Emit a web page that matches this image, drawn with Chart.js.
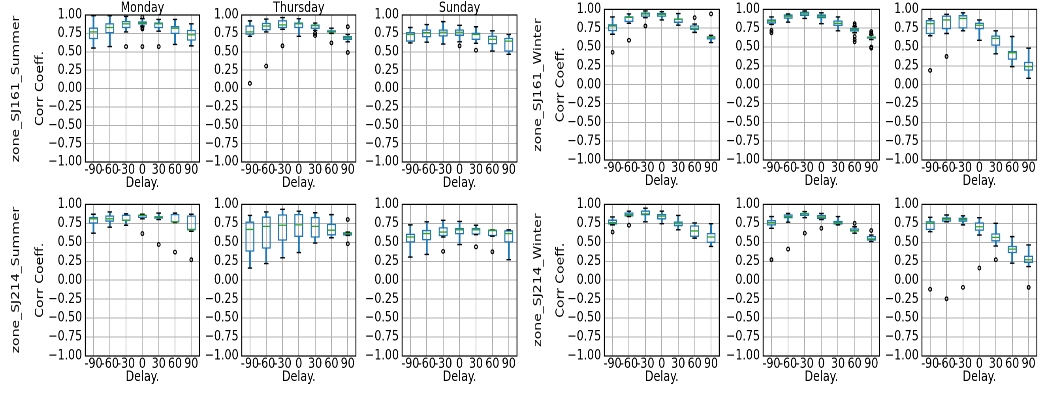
<!DOCTYPE html>
<html>
<head>
<meta charset="utf-8">
<script src="https://cdn.jsdelivr.net/npm/chart.js"></script>
<style>
  html, body { margin: 0; padding: 0; background: #fff; overflow: hidden; width: 1040px; height: 393px; }
  #fig { position: absolute; left: 0; top: 0; height: 393px; transform-origin: 0 0; }
  #fig canvas { position: absolute; }
  .rowlab { position: absolute; font: 14px "DejaVu Sans"; color: #000; white-space: nowrap;
            transform: translate(-50%, -50%) rotate(-90deg); }
</style>
</head>
<body>
<div id="fig"></div>
<script>
const delays = ['-90', '-60', '-30', '0', '30', '60', '90'];
const days = ['Monday', 'Thursday', 'Sunday'];

// per delay: whisker low, Q1, median, Q3, whisker high
const sj161SumMon = [[.55,.67,.77,.83,.99],[.57,.75,.83,.89,.99],[.77,.82,.88,.92,.98],[.85,.87,.89,.915,.95],[.78,.82,.88,.90,.94],[.60,.74,.82,.85,.94],[.58,.65,.73,.80,.88]];
const sj161SumMonOut = [[],[],[.57],[.975,.83,.81,.57],[.57],[],[]];
const sj161SumThu = [[.71,.73,.77,.86,.92],[.77,.79,.85,.895,.945],[.805,.82,.865,.93,.965],[.71,.82,.88,.90,.95],[.79,.81,.855,.87,.89],[.75,.76,.77,.795,.82],[.635,.66,.69,.715,.735]];
const sj161SumThuOut = [[.07],[.305],[.58],[],[.75,.72],[.62],[.84,.49]];
const sj161SumSun = [[.62,.635,.735,.77,.83],[.63,.695,.76,.805,.87],[.605,.705,.765,.805,.91],[.635,.715,.765,.805,.86],[.615,.66,.735,.76,.84],[.51,.60,.67,.72,.785],[.465,.50,.645,.69,.735]];
const sj161SumSunOut = [[],[],[],[.58],[.52],[],[]];

const sj161WinMon = [[.67,.71,.78,.805,.90],[.815,.83,.895,.91,.94],[.89,.90,.94,.96,.98],[.86,.90,.935,.955,.97],[.79,.82,.87,.88,.945],[.695,.725,.75,.79,.805],[.56,.60,.63,.645,.655]];
const sj161WinMonOut = [[.43],[.59],[.78],[],[],[.89],[.94]];
const sj161WinThu = [[.80,.81,.845,.87,.90],[.83,.875,.91,.935,.94],[.88,.91,.94,.97,.98],[.81,.88,.91,.935,.955],[.715,.78,.815,.855,.90],[.69,.705,.73,.755,.77],[.60,.61,.625,.64,.66]];
const sj161WinThuOut = [[.72,.69],[],[],[],[],[.81,.79,.64,.60,.57],[.705,.68,.50,.485]];
const sj161WinSun = [[.65,.67,.81,.86,.875],[.68,.735,.86,.92,.935],[.715,.745,.88,.925,.955],[.59,.735,.79,.825,.86],[.41,.515,.615,.655,.715],[.24,.33,.425,.45,.64],[.085,.185,.24,.305,.485]];
const sj161WinSunOut = [[.19],[.375],[],[],[],[],[]];

const sj214SumMon = [[.62,.745,.81,.835,.87],[.70,.77,.81,.855,.90],[.725,.78,.79,.865,.875],[.81,.82,.855,.865,.87],[.80,.81,.835,.845,.885],[.76,.76,.77,.875,.885],[.645,.66,.665,.855,.87]];
const sj214SumMonOut = [[],[],[],[.615],[.47],[.37],[.27]];
const sj214SumThu = [[.16,.375,.67,.775,.855],[.22,.415,.71,.84,.90],[.295,.52,.725,.87,.935],[.365,.57,.73,.875,.91],[.49,.56,.71,.835,.89],[.56,.59,.66,.745,.865],[.59,.59,.615,.635,.635]];
const sj214SumThuOut = [[],[],[],[],[],[],[.80,.48]];
const sj214SumSun = [[.305,.495,.57,.615,.73],[.34,.525,.615,.665,.77],[.57,.58,.635,.70,.79],[.47,.605,.665,.69,.775],[.60,.60,.665,.69,.725],[.58,.58,.66,.665,.665],[.27,.495,.615,.66,.665]];
const sj214SumSunOut = [[],[],[.38],[],[.44],[.375],[]];

const sj214WinMon = [[.73,.735,.76,.80,.835],[.84,.84,.865,.895,.91],[.77,.855,.875,.92,.95],[.745,.80,.845,.875,.91],[.665,.71,.745,.775,.855],[.555,.57,.65,.725,.755],[.445,.49,.57,.625,.745]];
const sj214WinMonOut = [[.635],[.725],[],[],[],[],[]];
const sj214WinThu = [[.685,.72,.76,.795,.84],[.765,.815,.84,.87,.88],[.825,.845,.875,.89,.905],[.80,.805,.83,.86,.88],[.73,.735,.76,.785,.84],[.62,.64,.655,.685,.705],[.51,.52,.545,.585,.595]];
const sj214WinThuOut = [[.27],[.41],[.62],[.685],[],[.75],[.655]];
const sj214WinSun = [[.64,.66,.75,.78,.83],[.77,.77,.805,.83,.86],[.73,.77,.80,.825,.85],[.595,.65,.705,.765,.825],[.45,.51,.565,.62,.75],[.225,.355,.41,.455,.575],[.18,.225,.27,.325,.465]];
const sj214WinSunOut = [[-.12],[-.245],[-.095],[.16],[.27],[],[-.095]];

// screen layout measured on the picture (the figure is squeezed horizontally)
const SX = 0.79;
const colX = [[85,200],[242,357],[402,518],[604,720],[763,880],[922,1038]];
const rowY = { sum1: [15,162], win1: [9,160], r2: [204,356] };
const FONT = 'DejaVu Sans';
const BLUE = '#1f77b4', GREEN = '#2ca02c', GRID = '#b0b0b0';

const panels = [
  { stats: sj161SumMon, out: sj161SumMonOut, col: 0, row: 0 },
  { stats: sj161SumThu, out: sj161SumThuOut, col: 1, row: 0 },
  { stats: sj161SumSun, out: sj161SumSunOut, col: 2, row: 0 },
  { stats: sj161WinMon, out: sj161WinMonOut, col: 3, row: 0 },
  { stats: sj161WinThu, out: sj161WinThuOut, col: 4, row: 0 },
  { stats: sj161WinSun, out: sj161WinSunOut, col: 5, row: 0 },
  { stats: sj214SumMon, out: sj214SumMonOut, col: 0, row: 1 },
  { stats: sj214SumThu, out: sj214SumThuOut, col: 1, row: 1 },
  { stats: sj214SumSun, out: sj214SumSunOut, col: 2, row: 1 },
  { stats: sj214WinMon, out: sj214WinMonOut, col: 3, row: 1 },
  { stats: sj214WinThu, out: sj214WinThuOut, col: 4, row: 1 },
  { stats: sj214WinSun, out: sj214WinSunOut, col: 5, row: 1 }
];

const rowLabels = [
  { text: 'zone_SJ161_Summer', x: 15, y: 88.5 },
  { text: 'zone_SJ214_Summer', x: 15, y: 280 },
  { text: 'zone_SJ161_Winter', x: 537, y: 84.5 },
  { text: 'zone_SJ214_Winter', x: 537, y: 280 }
];

const fig = document.getElementById('fig');
fig.style.width = (1040 / SX) + 'px';
fig.style.transform = 'scaleX(' + SX + ')';

const framePlugin = {
  id: 'frame',
  afterDatasetsDraw(chart) {
    const { ctx, chartArea: a } = chart;
    ctx.save();
    ctx.strokeStyle = '#000';
    ctx.lineWidth = 1.2;
    ctx.strokeRect(a.left, a.top, a.right - a.left, a.bottom - a.top);
    ctx.restore();
  }
};

rowLabels.forEach(l => {
  const d = document.createElement('div');
  d.className = 'rowlab';
  d.textContent = l.text;
  d.style.left = (l.x / SX) + 'px';
  d.style.top = l.y + 'px';
  fig.appendChild(d);
});

function fmt(v) {
  return v.toFixed(2).replace('-', '\u2212');
}

panels.forEach(p => {
  const summer = p.col < 3;
  const rowKey = p.row === 1 ? 'r2' : (summer ? 'sum1' : 'win1');
  const [top, bottom] = rowY[rowKey];
  const hasTitle = p.row === 0 && summer;
  const first = p.col === 0 || p.col === 3;

  const plotL = colX[p.col][0] / SX;
  const plotW = (colX[p.col][1] - colX[p.col][0]) / SX;
  const plotH = bottom - top;
  const yW = first ? 80 : 48;
  const padTop = hasTitle ? 15 : 12;
  const xH = 30;
  const padR = 6;

  const cv = document.createElement('canvas');
  cv.width = yW + plotW + padR;
  cv.height = padTop + plotH + xH;
  cv.style.left = (plotL - yW) + 'px';
  cv.style.top = (top - padTop) + 'px';
  fig.appendChild(cv);

  const catW = plotW / delays.length;
  const boxFrac = 0.55;
  const titleX = (summer ? 40 : 560.5) / SX;

  const medians = p.stats.map((s, i) => ({ x: delays[i], y: s[2] }));
  const caps = [];
  p.stats.forEach((s, i) => { caps.push({ x: delays[i], y: s[0] }, { x: delays[i], y: s[4] }); });
  const fliers = [];
  p.out.forEach((arr, i) => arr.forEach(v => fliers.push({ x: delays[i], y: v })));

  new Chart(cv, {
    type: 'bar',
    data: {
      labels: delays,
      datasets: [
        { type: 'line', data: medians, showLine: false, pointStyle: 'line',
          pointRadius: catW * boxFrac / 2 - 0.5, pointBorderColor: GREEN, pointBorderWidth: 1.3, order: 0 },
        { type: 'line', data: caps, showLine: false, pointStyle: 'line',
          pointRadius: catW * boxFrac / 4, pointBorderColor: '#000', pointBorderWidth: 1.4, order: 1 },
        { type: 'line', data: fliers, showLine: false, pointStyle: 'circle',
          pointRadius: 1.8, pointBorderColor: '#000', pointBackgroundColor: 'rgba(0,0,0,0)',
          pointBorderWidth: 1.3, order: 1 },
        { type: 'bar', data: p.stats.map(s => [s[1], s[3]]), backgroundColor: 'rgba(0,0,0,0)',
          borderColor: BLUE, borderWidth: 1.4, borderSkipped: false,
          barPercentage: boxFrac, categoryPercentage: 1, grouped: false, order: 2 },
        { type: 'bar', data: p.stats.map(s => [s[0], s[1]]), backgroundColor: BLUE,
          barThickness: 1.6, grouped: false, order: 3 },
        { type: 'bar', data: p.stats.map(s => [s[3], s[4]]), backgroundColor: BLUE,
          barThickness: 1.6, grouped: false, order: 3 }
      ]
    },
    options: {
      responsive: false,
      animation: false,
      devicePixelRatio: 2,
      events: [],
      layout: { padding: { top: hasTitle ? 0 : padTop, right: padR, left: 0, bottom: 0 } },
      plugins: {
        legend: { display: false },
        tooltip: { enabled: false },
        title: {
          display: hasTitle,
          fullSize: false,
          text: hasTitle ? days[p.col] : '',
          color: '#000',
          font: { family: FONT, size: 14, weight: 'normal', lineHeight: 13.5 / 14 },
          padding: { top: 1.5, bottom: 0 }
        }
      },
      scales: {
        x: {
          type: 'category',
          offset: true,
          grid: { offset: false, color: GRID, lineWidth: 1, drawTicks: false },
          border: { display: false },
          ticks: { autoSkip: false, maxRotation: 0, minRotation: 0, padding: 0, color: '#000',
                   font: { family: FONT, size: 14 } },
          title: { display: true, text: 'Delay.', color: '#000', padding: 0,
                   font: { family: FONT, size: 14 } },
          afterFit: s => { s.height = xH; }
        },
        y: {
          min: -1,
          max: 1,
          grid: { color: GRID, lineWidth: 1, drawTicks: false },
          border: { display: false },
          ticks: { stepSize: 0.25, autoSkip: false, padding: 4, color: '#000',
                   font: { family: FONT, size: 14 }, callback: v => fmt(v) },
          title: { display: first, text: 'Corr Coeff.', color: '#000',
                   padding: { top: titleX - (plotL - yW) - 8.4, bottom: 0 },
                   font: { family: FONT, size: 14 } },
          afterFit: s => { s.width = yW; }
        }
      }
    },
    plugins: [framePlugin]
  });
});
</script>
</body>
</html>
